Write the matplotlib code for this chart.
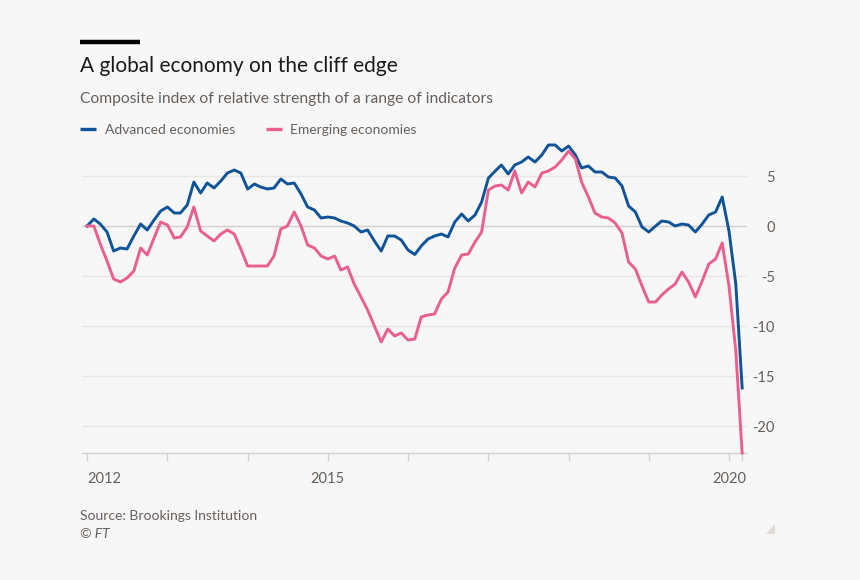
import matplotlib
matplotlib.use('Agg')
import matplotlib.pyplot as plt
import matplotlib.dates as mdates
import pandas as pd
from matplotlib.lines import Line2D
from matplotlib.patches import Polygon

plt.rcParams['axes.unicode_minus'] = False
plt.rcParams['font.family'] = ['Lato', 'DejaVu Sans']

# ---------------- data ----------------
dates = pd.date_range('2012-01-01', periods=99, freq='MS')

advanced = [0.0, 0.7, 0.2, -0.6, -2.5, -2.2, -2.3, -1.0, 0.2, -0.4,
            0.6, 1.5, 1.9, 1.3, 1.3, 2.1, 4.4, 3.3, 4.3, 3.8,
            4.5, 5.3, 5.6, 5.3, 3.7, 4.2, 3.9, 3.7, 3.8, 4.7,
            4.2, 4.3, 3.2, 1.9, 1.6, 0.8, 0.9, 0.8, 0.5, 0.3,
            0.0, -0.6, -0.4, -1.5, -2.5, -1.0, -1.0, -1.4, -2.4, -2.85,
            -2.0, -1.3, -1.0, -0.8, -1.1, 0.4, 1.2, 0.5, 1.1, 2.4,
            4.8, 5.5, 6.1, 5.2, 6.1, 6.4, 6.9, 6.4, 7.1, 8.1,
            8.1, 7.5, 8.0, 7.1, 5.8, 6.0, 5.4, 5.4, 4.9, 4.8,
            4.0, 2.0, 1.4, -0.1, -0.6, 0.0, 0.5, 0.4, 0.0, 0.2,
            0.1, -0.6, 0.2, 1.1, 1.4, 2.9, -0.5, -5.8, -16.2]

emerging = [0.0, 0.0, -1.8, -3.5, -5.3, -5.6, -5.2, -4.5, -2.2, -2.9,
            -1.2, 0.4, 0.1, -1.2, -1.1, -0.1, 1.9, -0.5, -1.0, -1.5,
            -0.8, -0.4, -0.8, -2.3, -4.0, -4.0, -4.0, -4.0, -3.0, -0.3,
            0.0, 1.4, 0.0, -1.9, -2.2, -3.0, -3.3, -3.0, -4.4, -4.1,
            -5.8, -7.1, -8.4, -10.0, -11.6, -10.3, -11.0, -10.7, -11.4, -11.3,
            -9.1, -8.9, -8.8, -7.3, -6.6, -4.2, -2.9, -2.8, -1.6, -0.6,
            3.6, 4.0, 4.1, 3.6, 5.5, 3.3, 4.4, 3.9, 5.3, 5.5,
            5.9, 6.6, 7.5, 6.7, 4.4, 2.9, 1.3, 0.9, 0.8, 0.3,
            -0.7, -3.6, -4.3, -6.0, -7.6, -7.6, -6.9, -6.3, -5.8, -4.6,
            -5.6, -7.1, -5.5, -3.8, -3.3, -1.7, -6.0, -12.5, -22.7]

y_ticks = [5, 0, -5, -10, -15, -20]
tick_dates = list(pd.date_range('2012-01-01', '2020-01-01', freq='YS')) + [pd.Timestamp('2020-03-01')]
tick_labels = ['2012', '', '', '2015', '', '', '', '', '2020', '']

series_names = ['Advanced economies', 'Emerging economies']
title = 'A global economy on the cliff edge'
subtitle = 'Composite index of relative strength of a range of indicators'
source = 'Source: Brookings Institution'

# ---------------- style ----------------
BG = '#f7f7f7'
BLUE = '#0f5499'
PINK = '#eb5f8c'
GREY_TXT = '#66605c'
GRID = '#ebe6e1'
ZERO = '#d6cec7'
AXIS = '#d6d0ca'

W, H = 860, 580
fig = plt.figure(figsize=(W / 100, H / 100), dpi=100, facecolor=BG)

ax_left, ax_right, ax_top, ax_bot = 82, 747, 136, 453
ax = fig.add_axes([ax_left / W, (H - ax_bot) / H, (ax_right - ax_left) / W, (ax_bot - ax_top) / H])
ax.set_facecolor(BG)

x0 = mdates.date2num(pd.Timestamp('2011-12-09'))
x1 = mdates.date2num(pd.Timestamp('2020-03-23'))
ax.set_xlim(x0, x1)
ax.set_ylim(-22.7, 9.0)

for v in y_ticks:
    ax.axhline(v, color=ZERO if v == 0 else GRID, lw=1.0, zorder=1)

ax.plot(dates, advanced, color=BLUE, lw=2.1, zorder=3, clip_on=False, solid_joinstyle='round')
ax.plot(dates, emerging, color=PINK, lw=2.1, zorder=3, clip_on=False, solid_joinstyle='round')

for s in ['top', 'left', 'right']:
    ax.spines[s].set_visible(False)
ax.spines['bottom'].set_color(AXIS)
ax.spines['bottom'].set_linewidth(1.0)

ax.set_xticks(tick_dates)
ax.set_xticklabels(tick_labels)
ax.tick_params(axis='x', length=6, width=1, color=AXIS, labelcolor=GREY_TXT,
               labelsize=10.5, pad=8)
ax.get_xticklabels()[0].set_ha('left')

# y labels on the right, right-aligned
ax.set_yticks([])
label_x = (775 - ax_left) / (ax_right - ax_left)
for v in y_ticks:
    ax.text(label_x, v, str(v), transform=ax.get_yaxis_transform(), ha='right',
            va='center_baseline', fontsize=10.5, color=GREY_TXT, clip_on=False)

# ---------------- header ----------------
fig.add_artist(Line2D([80 / W, 140 / W], [(H - 41.5) / H] * 2, color='black', lw=3.2,
                      solid_capstyle='butt'))
fig.text(80 / W, (H - 72) / H, title, fontsize=15, color='#1a1a1a', va='baseline')
fig.text(80 / W, (H - 103) / H, subtitle, fontsize=11.25, color=GREY_TXT, va='baseline')

ly = (H - 128.5) / H
fig.add_artist(Line2D([80 / W, 95.5 / W], [ly, ly], color=BLUE, lw=2.4, solid_capstyle='butt'))
fig.text(105 / W, (H - 133.5) / H, series_names[0], fontsize=10, color=GREY_TXT, va='baseline')
fig.add_artist(Line2D([266 / W, 281.5 / W], [ly, ly], color=PINK, lw=2.4, solid_capstyle='butt'))
fig.text(290 / W, (H - 133.5) / H, series_names[1], fontsize=10, color=GREY_TXT, va='baseline')

# ---------------- footer ----------------
fig.text(80 / W, (H - 520) / H, source, fontsize=10, color=GREY_TXT, va='baseline')
fig.text(80 / W, (H - 538) / H, '© FT', fontsize=10, color=GREY_TXT, va='baseline', style='italic')
fig.add_artist(Polygon([[766 / W, (H - 534) / H], [775 / W, (H - 534) / H], [775 / W, (H - 524) / H]],
                       closed=True, facecolor='#e3dbd3', edgecolor='none', transform=fig.transFigure))

fig.savefig('out.png', dpi=100, facecolor=BG)
